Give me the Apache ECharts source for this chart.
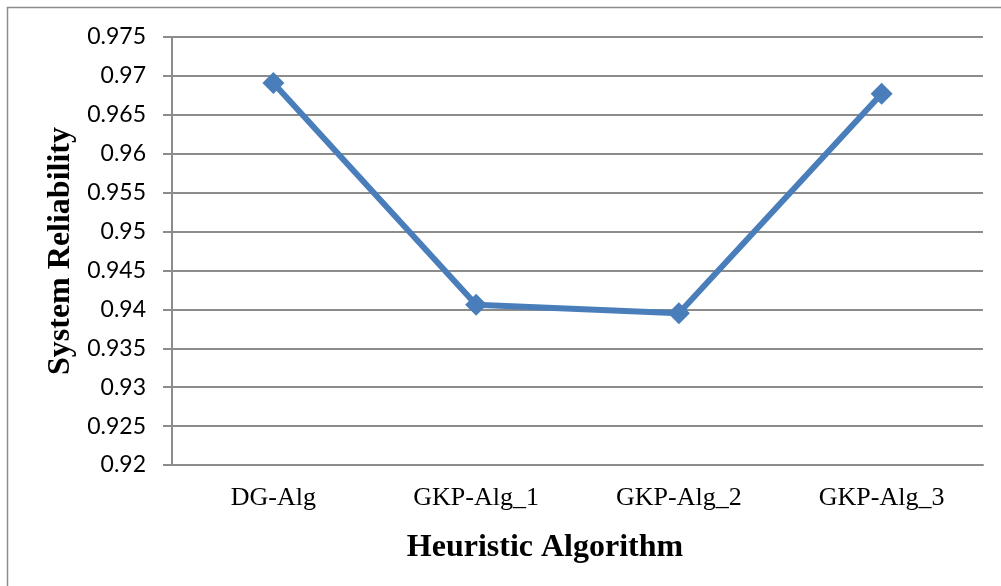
<!DOCTYPE html>
<html><head><meta charset="utf-8">
<script src="https://cdn.jsdelivr.net/npm/echarts@6/dist/echarts.min.js"></script>
<style>html,body{margin:0;padding:0;background:#fff}#c{width:1001px;height:586px}</style>
</head><body><div id="c"></div>
<script>
const categories = ['DG-Alg', 'GKP-Alg_1', 'GKP-Alg_2', 'GKP-Alg_3'];
const reliability = [0.9691, 0.9406, 0.9395, 0.9677];
const yMin = 0.92, yMax = 0.975, yStep = 0.005;

const chart = echarts.init(document.getElementById('c'));
chart.setOption({
  backgroundColor: '#fff',
  animation: false,
  graphic: [{
    type: 'rect', shape: { x: 7.5, y: 7.5, width: 1100, height: 700 },
    style: { fill: 'none', stroke: '#8c8c8c', lineWidth: 1.5 }, silent: true
  }],
  grid: { left: 172, right: 18, top: 37, bottom: 121 },
  xAxis: {
    type: 'category', data: categories, boundaryGap: true,
    axisLine: { lineStyle: { color: '#8c8c8c', width: 2 } },
    axisTick: { show: false },
    axisLabel: { fontFamily: 'Liberation Serif', fontSize: 26, color: '#000', margin: 20 },
    name: 'Heuristic Algorithm', nameLocation: 'middle', nameGap: 67,
    nameTextStyle: { fontFamily: 'Liberation Serif', fontWeight: 'bold', fontSize: 32, color: '#000',
      padding: [0, 65, 0, 0] }
  },
  yAxis: {
    type: 'value', min: yMin, max: yMax, interval: yStep,
    axisLine: { show: true, lineStyle: { color: '#8c8c8c', width: 2 } },
    axisTick: { show: true, length: 9, lineStyle: { color: '#8c8c8c', width: 2 } },
    splitLine: { lineStyle: { color: '#8c8c8c', width: 2 } },
    axisLabel: { fontFamily: 'Lato', fontSize: 23, color: '#000', margin: 26,
      formatter: v => String(parseFloat(v.toFixed(3))) },
    name: 'System Reliability', nameLocation: 'middle', nameGap: 95, nameRotate: 90,
    nameTextStyle: { fontFamily: 'Liberation Serif', fontWeight: 'bold', fontSize: 32, color: '#000' }
  },
  series: [{
    type: 'line', data: reliability,
    symbol: 'diamond', symbolSize: 22,
    lineStyle: { color: '#4a7ebb', width: 6 },
    itemStyle: { color: '#4a7ebb' }
  }]
});
</script></body></html>
